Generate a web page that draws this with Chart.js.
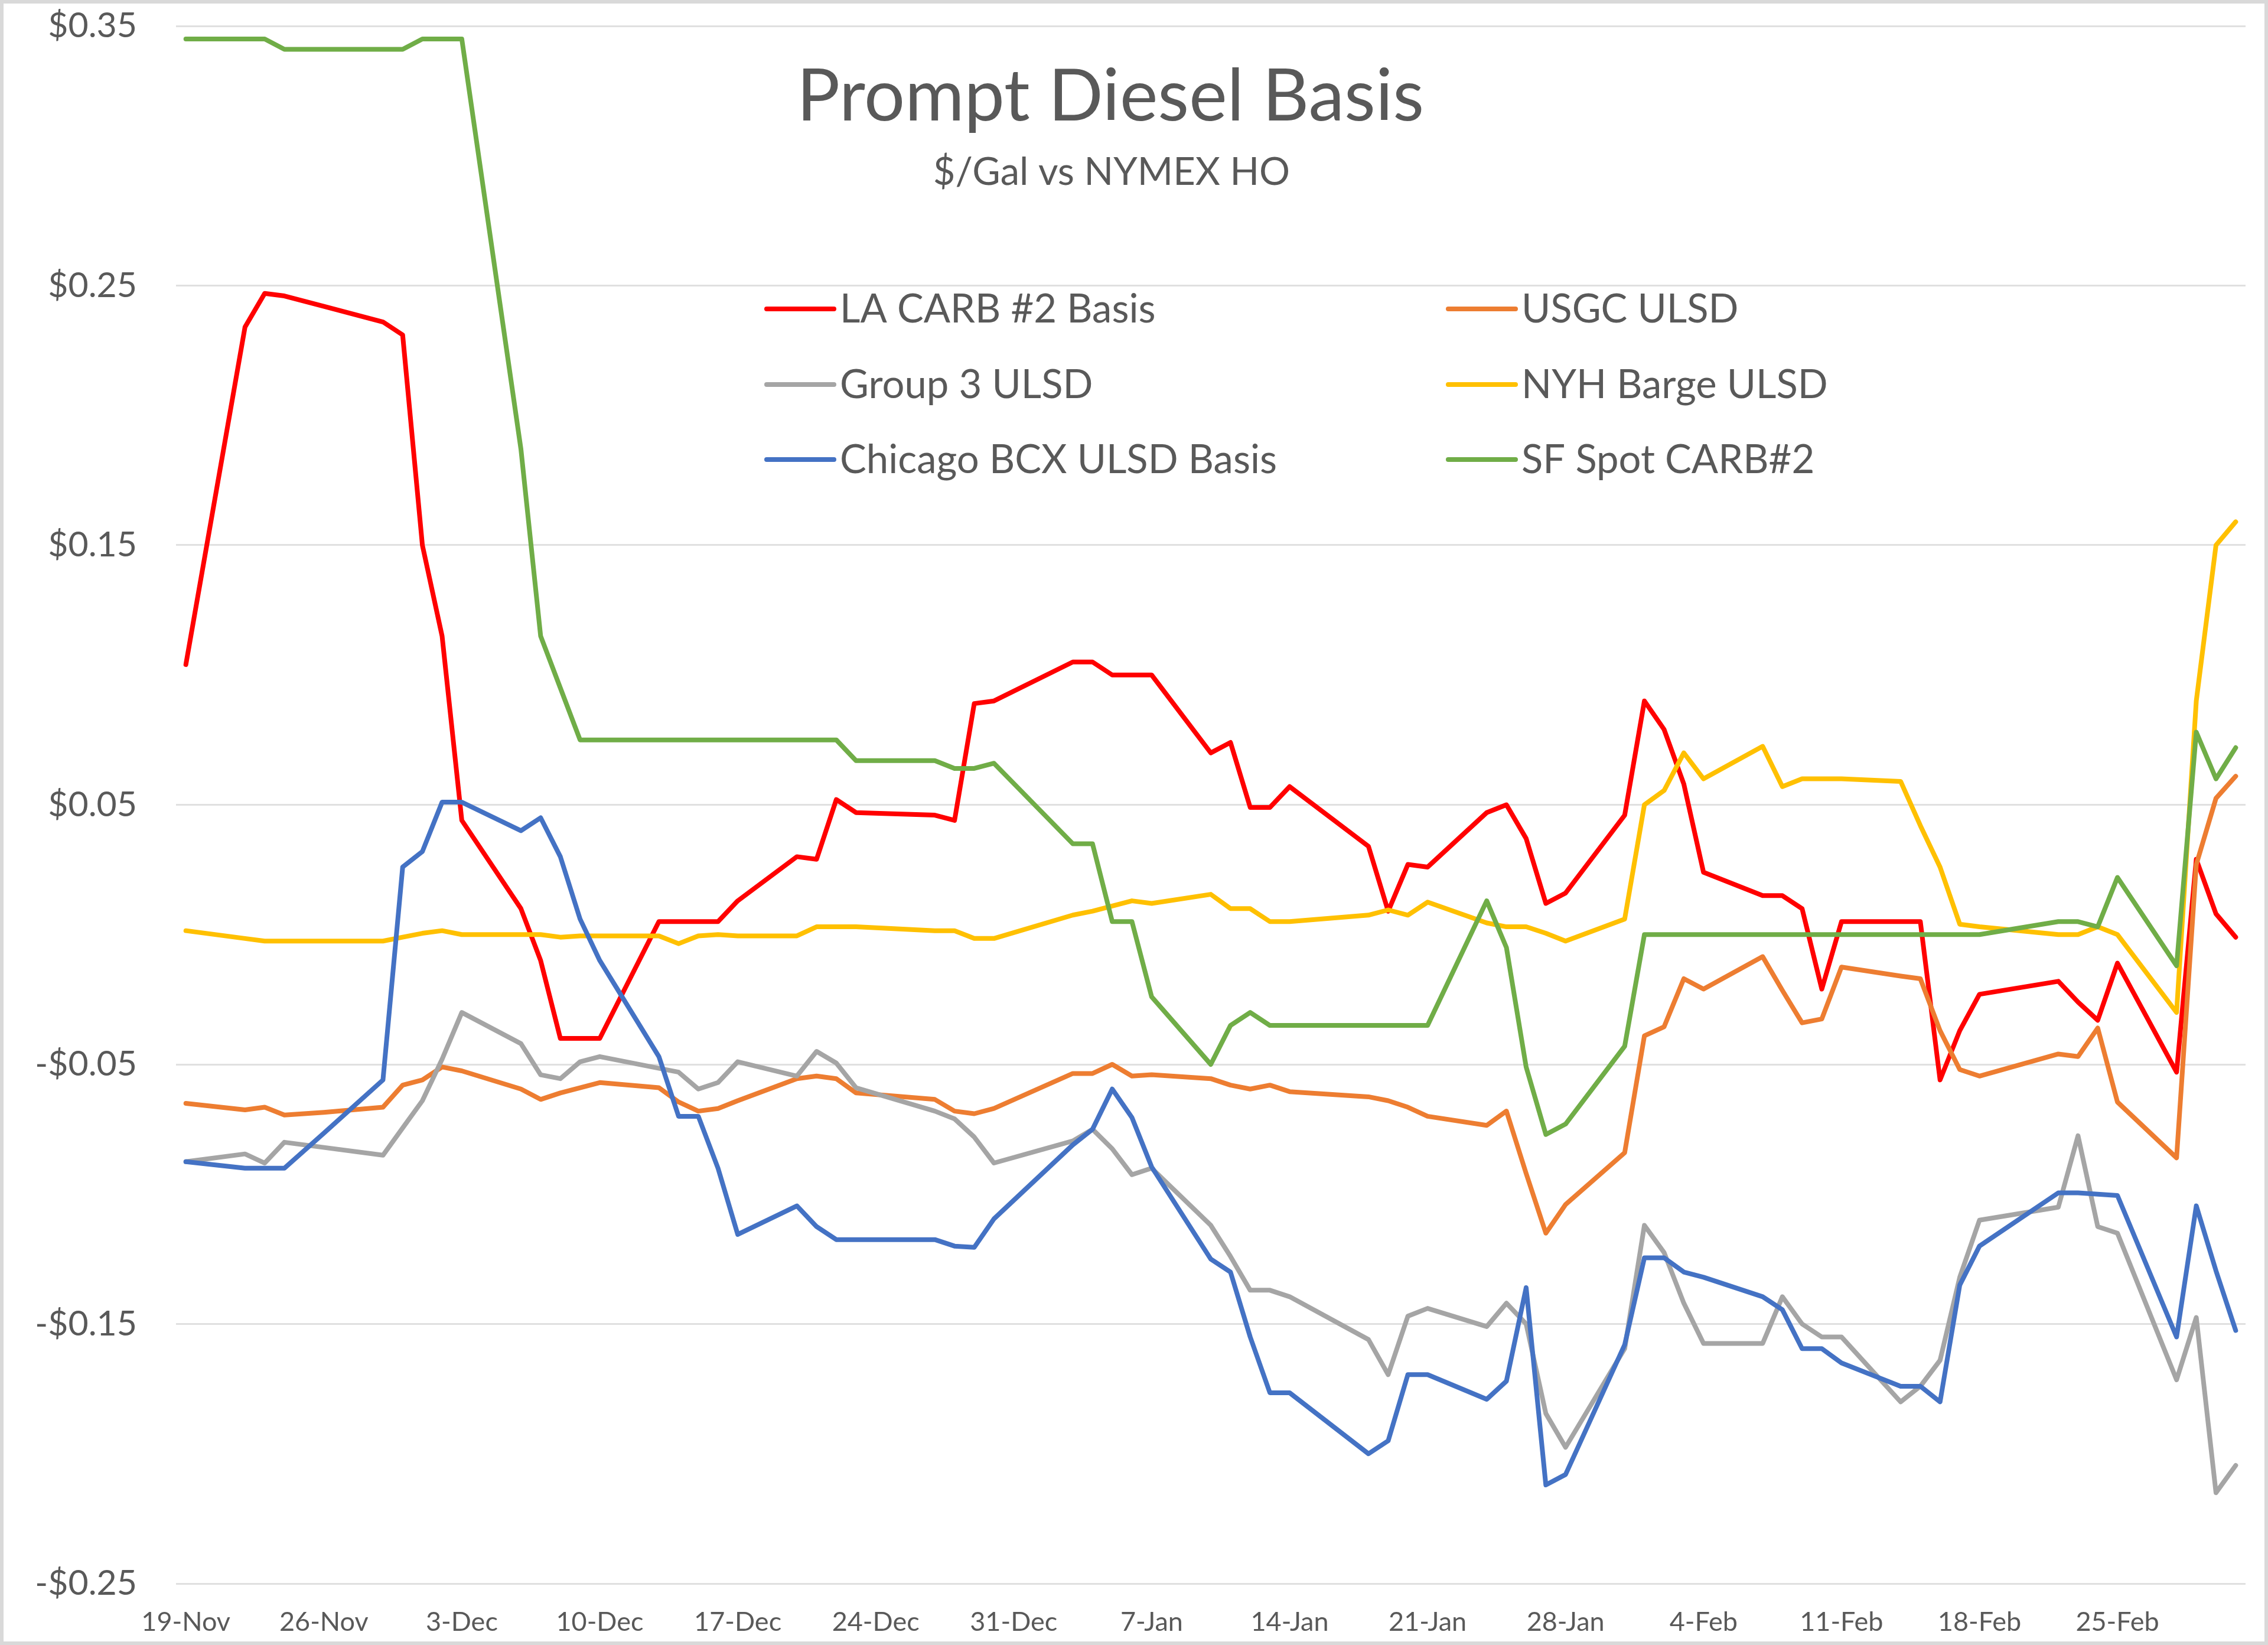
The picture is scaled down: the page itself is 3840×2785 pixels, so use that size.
<!DOCTYPE html>
<html>
<head>
<meta charset="utf-8">
<title>Prompt Diesel Basis</title>
<script src="https://cdn.jsdelivr.net/npm/chart.js@4.4.1/dist/chart.umd.min.js"></script>
<style>
  html, body { margin: 0; padding: 0; background: #fff; }
  canvas { display: block; }
</style>
</head>
<body>
<canvas id="basis-chart" width="3840" height="2785"></canvas>
<script>
// trading days, counted in days from 19-Nov-2021
const tradeDays = [0, 3, 4, 5, 7, 10, 11, 12, 13, 14, 17, 18, 19, 20, 21, 24, 25, 26, 27, 28,
  31, 32, 33, 34, 38, 39, 40, 41, 45, 46, 47, 48, 49, 52, 53, 54, 55, 56, 60, 61, 62, 63,
  66, 67, 68, 69, 70, 73, 74, 75, 76, 77, 80, 81, 82, 83, 84, 87, 88, 89, 90, 91,
  95, 96, 97, 98, 101, 102, 103, 104];

const weekTicks = [0, 7, 14, 21, 28, 35, 42, 49, 56, 63, 70, 77, 84, 91, 98];
const weekLabels = ['19-Nov', '26-Nov', '3-Dec', '10-Dec', '17-Dec', '24-Dec', '31-Dec', '7-Jan',
  '14-Jan', '21-Jan', '28-Jan', '4-Feb', '11-Feb', '18-Feb', '25-Feb'];
const yTicks = [-0.25, -0.15, -0.05, 0.05, 0.15, 0.25, 0.35];

const laCarb = [0.104, 0.234, 0.247, 0.246, 0.242, 0.236, 0.231, 0.150, 0.115, 0.044,
  0.010, -0.010, -0.040, -0.040, -0.040,
  0.005, 0.005, 0.005, 0.005, 0.013,
  0.030, 0.029, 0.052, 0.047,
  0.046, 0.044, 0.089, 0.090,
  0.105, 0.105, 0.100, 0.100, 0.100,
  0.070, 0.074, 0.049, 0.049, 0.057,
  0.034, 0.009, 0.027, 0.026,
  0.047, 0.050, 0.037, 0.012, 0.016,
  0.046, 0.090, 0.079, 0.058, 0.024,
  0.015, 0.015, 0.010, -0.021, 0.005,
  0.005, 0.005, -0.056, -0.037, -0.023,
  -0.018, -0.026, -0.033, -0.011,
  -0.053, 0.029, 0.008, -0.001];

const usgc = [-0.065, -0.0675, -0.0665, -0.0695, -0.0685, -0.0665, -0.058, -0.056, -0.051, -0.0525,
  -0.0595, -0.0635, -0.061, -0.059, -0.057,
  -0.059, -0.0645, -0.068, -0.067, -0.064,
  -0.0555, -0.0545, -0.0555, -0.061,
  -0.0635, -0.068, -0.069, -0.067,
  -0.0535, -0.0535, -0.050, -0.0545, -0.054,
  -0.0555, -0.058, -0.0595, -0.058, -0.0605,
  -0.0625, -0.064, -0.0665, -0.070,
  -0.0735, -0.068, -0.092, -0.115, -0.104,
  -0.084, -0.039, -0.0355, -0.017, -0.021,
  -0.0085, -0.0215, -0.034, -0.0325, -0.0125,
  -0.016, -0.017, -0.037, -0.052, -0.0545,
  -0.046, -0.047, -0.036, -0.0645,
  -0.086, 0.027, 0.0525, 0.061];

const group3 = [-0.0875, -0.0845, -0.088, -0.080, -0.082, -0.085, -0.0745, -0.064, -0.048, -0.030,
  -0.042, -0.054, -0.0555, -0.049, -0.047,
  -0.0515, -0.053, -0.0595, -0.057, -0.049,
  -0.0545, -0.045, -0.0495, -0.059,
  -0.068, -0.071, -0.078, -0.088,
  -0.0795, -0.075, -0.0825, -0.0925, -0.090,
  -0.112, -0.124, -0.137, -0.137, -0.1395,
  -0.156, -0.1695, -0.147, -0.144,
  -0.151, -0.142, -0.150, -0.1845, -0.1975,
  -0.1595, -0.112, -0.1225, -0.142, -0.1575,
  -0.1575, -0.1395, -0.150, -0.155, -0.155,
  -0.180, -0.174, -0.164, -0.132, -0.110,
  -0.105, -0.0775, -0.1125, -0.115,
  -0.1715, -0.1475, -0.215, -0.2045];

const nyhBarge = [0.0015, -0.0015, -0.0025, -0.0025, -0.0025, -0.0025, -0.001, 0.0005, 0.0015, 0.0,
  0.0, 0.0, -0.001, -0.0005, -0.0005,
  -0.0005, -0.0035, -0.0005, 0.0, -0.0005,
  -0.0005, 0.003, 0.003, 0.003,
  0.0015, 0.0015, -0.0015, -0.0015,
  0.0075, 0.009, 0.011, 0.013, 0.012,
  0.0155, 0.010, 0.010, 0.005, 0.005,
  0.0075, 0.0095, 0.0075, 0.0125,
  0.0045, 0.003, 0.003, 0.0005, -0.0025,
  0.006, 0.050, 0.0555, 0.070, 0.060,
  0.0725, 0.057, 0.060, 0.060, 0.060,
  0.059, 0.042, 0.026, 0.004, 0.003,
  0.0, 0.0, 0.003, 0.0,
  -0.030, 0.090, 0.150, 0.159];

const chicagoBcx = [-0.0875, -0.090, -0.090, -0.090, -0.0765, -0.056, 0.026, 0.032, 0.051, 0.051,
  0.040, 0.045, 0.030, 0.006, -0.010,
  -0.047, -0.070, -0.070, -0.090, -0.1155,
  -0.1045, -0.1125, -0.1175, -0.1175,
  -0.1175, -0.120, -0.1205, -0.1095,
  -0.081, -0.075, -0.0595, -0.0705, -0.0895,
  -0.125, -0.130, -0.155, -0.1765, -0.1765,
  -0.200, -0.195, -0.1695, -0.1695,
  -0.179, -0.172, -0.136, -0.212, -0.208,
  -0.158, -0.1245, -0.1245, -0.130, -0.132,
  -0.1395, -0.1445, -0.1595, -0.1595, -0.165,
  -0.174, -0.174, -0.180, -0.135, -0.120,
  -0.0995, -0.0995, -0.100, -0.1005,
  -0.155, -0.1045, -0.1295, -0.1525];

const sfSpot = [0.345, 0.345, 0.345, 0.341, 0.341, 0.341, 0.341, 0.345, 0.345, 0.345,
  0.187, 0.115, 0.095, 0.075, 0.075,
  0.075, 0.075, 0.075, 0.075, 0.075,
  0.075, 0.075, 0.075, 0.067,
  0.067, 0.064, 0.064, 0.066,
  0.035, 0.035, 0.005, 0.005, -0.024,
  -0.050, -0.035, -0.030, -0.035, -0.035,
  -0.035, -0.035, -0.035, -0.035,
  0.013, -0.005, -0.051, -0.077, -0.073,
  -0.043, 0.000, 0.000, 0.000, 0.000,
  0.000, 0.000, 0.000, 0.000, 0.000,
  0.000, 0.000, 0.000, 0.000, 0.000,
  0.005, 0.005, 0.003, 0.022,
  -0.012, 0.078, 0.060, 0.072];

const seriesNames = ['LA CARB #2 Basis', 'USGC ULSD', 'Group 3 ULSD', 'NYH Barge ULSD', 'Chicago BCX ULSD Basis', 'SF Spot CARB#2'];
const seriesValues = [laCarb, usgc, group3, nyhBarge, chicagoBcx, sfSpot];
const seriesColors = ['#ff0000', '#ed7d31', '#a5a5a5', '#ffc000', '#4472c4', '#70ad47'];

const textColor = '#595959';
const fontFamily = 'Lato, "Open Sans", sans-serif';

// frame, title and the two-column legend drawn inside the plot like the Excel chart
const overlay = {
  id: 'overlay',
  beforeDraw(chart) {
    const ctx = chart.ctx;
    ctx.save();
    ctx.fillStyle = '#ffffff';
    ctx.fillRect(0, 0, chart.width, chart.height);
    ctx.strokeStyle = '#d9d9d9';
    ctx.lineWidth = 6;
    ctx.strokeRect(3, 3, chart.width - 6, chart.height - 6);
    ctx.restore();
  },
  afterDraw(chart) {
    const ctx = chart.ctx;
    ctx.save();
    ctx.fillStyle = textColor;
    ctx.textAlign = 'center';
    ctx.textBaseline = 'alphabetic';
    ctx.font = '122px ' + fontFamily;
    ctx.fillText('Prompt Diesel Basis', 1880, 204);
    ctx.font = '65px ' + fontFamily;
    ctx.fillText('$/Gal vs NYMEX HO', 1882, 313);

    const colX = [1298, 2452];
    const rowY = [523, 651, 778];
    ctx.textAlign = 'left';
    ctx.font = '67px ' + fontFamily;
    seriesNames.forEach((name, i) => {
      const x = colX[i % 2];
      const y = rowY[Math.floor(i / 2)];
      ctx.strokeStyle = seriesColors[i];
      ctx.lineWidth = 8;
      ctx.lineCap = 'round';
      ctx.beginPath();
      ctx.moveTo(x, y);
      ctx.lineTo(x + 114, y);
      ctx.stroke();
      ctx.fillStyle = textColor;
      ctx.fillText(name, x + 124, y + 23);
    });
    ctx.restore();
  }
};

const ctx = document.getElementById('basis-chart').getContext('2d');

new Chart(ctx, {
  type: 'line',
  data: {
    datasets: seriesNames.map((name, i) => ({
      label: name,
      data: tradeDays.map((d, k) => ({ x: d, y: seriesValues[i][k] })),
      borderColor: seriesColors[i],
      backgroundColor: seriesColors[i],
      borderWidth: 8,
      pointRadius: 0,
      tension: 0,
      fill: false,
      borderJoinStyle: 'round',
      borderCapStyle: 'round',
      order: seriesNames.length - i
    }))
  },
  options: {
    responsive: false,
    animation: false,
    events: [],
    layout: { padding: { top: 44, right: 38, left: 0, bottom: 0 } },
    plugins: {
      legend: { display: false },
      tooltip: { enabled: false }
    },
    scales: {
      x: {
        type: 'linear',
        min: -0.5,
        max: 104.5,
        grid: { display: false },
        border: { display: false },
        afterBuildTicks: axis => { axis.ticks = weekTicks.map(v => ({ value: v })); },
        afterFit: axis => {
          axis.height = 104;
          axis.paddingLeft = 0;
          axis.paddingRight = 0;
        },
        ticks: {
          autoSkip: false,
          maxRotation: 0,
          padding: 30,
          color: textColor,
          font: { family: fontFamily, size: 45 },
          callback: (v, idx) => weekLabels[idx]
        }
      },
      y: {
        min: -0.25,
        max: 0.35,
        grid: { color: '#e0e0e0', lineWidth: 3, drawTicks: false },
        border: { display: false },
        afterBuildTicks: axis => { axis.ticks = yTicks.map(v => ({ value: v })); },
        afterFit: axis => {
          axis.width = 298;
          axis.paddingTop = 0;
          axis.paddingBottom = 0;
        },
        ticks: {
          padding: 66,
          color: textColor,
          font: { family: fontFamily, size: 59 },
          callback: v => (v < 0 ? '-$' : '$') + Math.abs(v).toFixed(2)
        }
      }
    }
  },
  plugins: [overlay]
});
</script>
</body>
</html>
